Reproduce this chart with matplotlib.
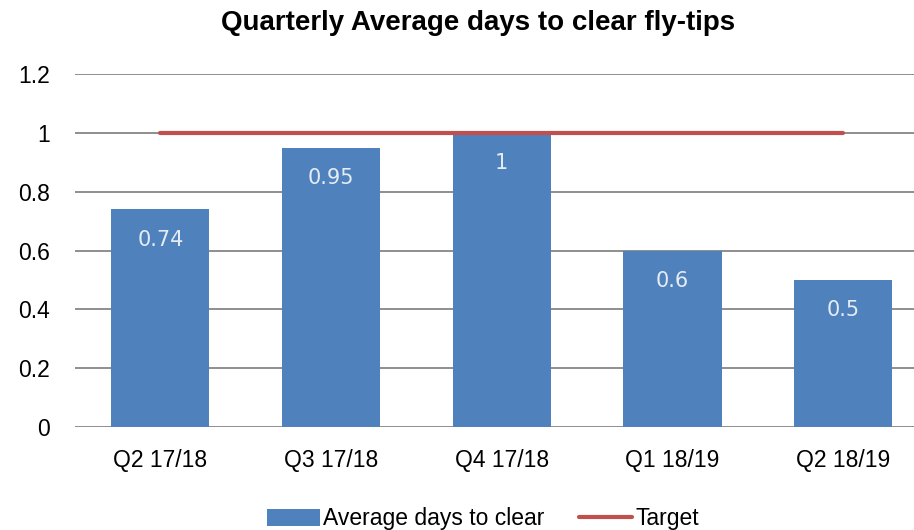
import matplotlib
matplotlib.use('Agg')
import matplotlib.pyplot as plt

quarters = ['Q2 17/18', 'Q3 17/18', 'Q4 17/18', 'Q1 18/19', 'Q2 18/19']
avg_days = [0.74, 0.95, 1.0, 0.6, 0.5]
target = [1, 1, 1, 1, 1]
yticks = [0, 0.2, 0.4, 0.6, 0.8, 1, 1.2]
ytick_labels = ['0', '0.2', '0.4', '0.6', '0.8', '1', '1.2']

bar_col = '#4F81BD'
line_col = '#C0504D'
grid_col = '#868686'
font = ['Liberation Sans', 'DejaVu Sans']

fig = plt.figure(figsize=(9.14, 5.30), dpi=100)
ax = fig.add_axes([75/914, 103/530, 839/914, 353/530])

x = list(range(len(quarters)))
bars = ax.bar(x, avg_days, width=0.575, color=bar_col, zorder=2, label='Average days to clear')
line, = ax.plot(x, target, color=line_col, lw=3, solid_capstyle='round', zorder=3, label='Target')

for xi, v in zip(x, avg_days):
    ax.annotate('%g' % v, (xi, v), xytext=(0, -22), textcoords='offset points',
                ha='center', va='center', fontsize=15, color='#E6ECF4',
                family='DejaVu Sans', zorder=4)

ax.set_xlim(-0.5, 4.415)
ax.set_ylim(0, 1.2)
ax.set_yticks(yticks)
ax.set_yticklabels(ytick_labels, family=font, fontsize=16.5)
ax.set_xticks(x)
ax.set_xticklabels(quarters, family=font, fontsize=16.5)
ax.tick_params(axis='y', length=0, pad=18)
ax.tick_params(axis='x', length=0, pad=16)
ax.grid(axis='y', color=grid_col, lw=1.3, zorder=0)
for s in ax.spines.values():
    s.set_visible(False)

fig.text(478/914, 1 - 23/530, 'Quarterly Average days to clear fly-tips',
         ha='center', va='center', fontsize=20, fontweight='bold', family=font)

fig.legend([bars, line], ['Average days to clear', 'Target'], loc='center',
           bbox_to_anchor=(483/914, 11/530), ncol=2, frameon=False,
           prop={'family': font, 'size': 16.5}, handlelength=2.3, handletextpad=0.15,
           columnspacing=1.5)
plt.savefig('out.png', dpi=100)
